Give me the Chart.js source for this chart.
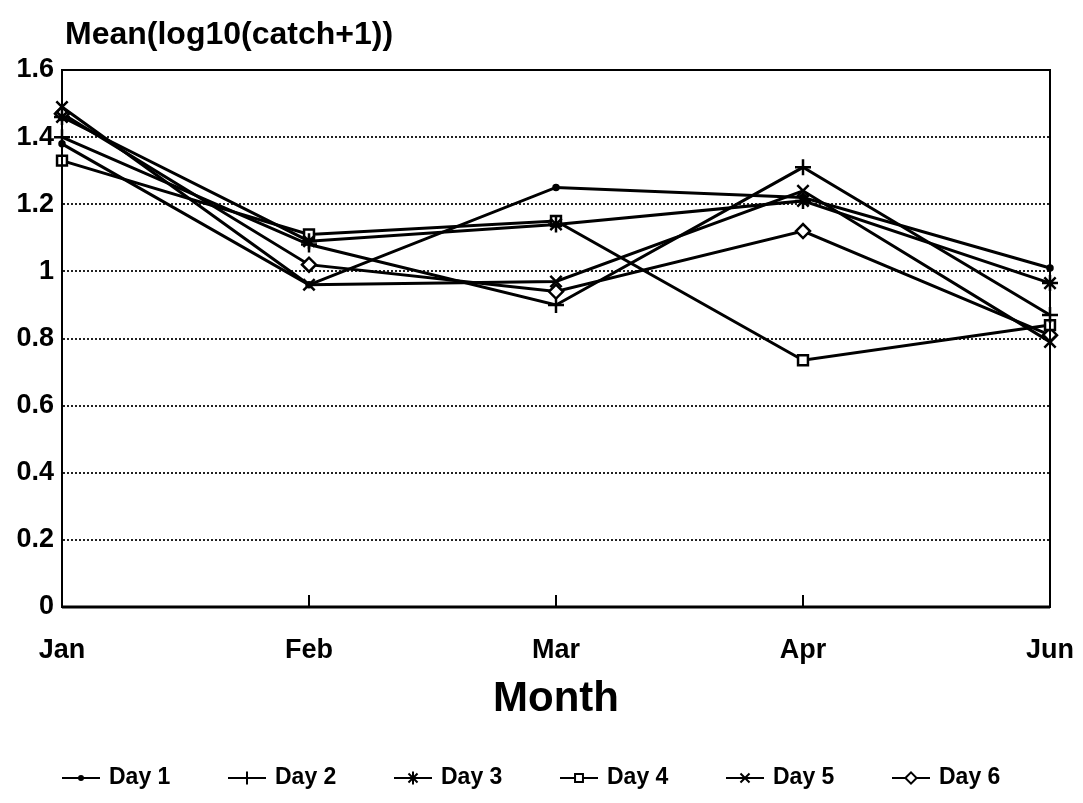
<!DOCTYPE html>
<html lang="en">
<head>
    <meta charset="UTF-8">
    <title>Mean(log10(catch+1)) by Month</title>
    <script src="https://cdn.jsdelivr.net/npm/chart.js"></script>
    <style>
        body {
            margin: 0;
            background: #fff;
        }
        #wrap {
            width: 1083px;
            height: 803px;
        }
    </style>
</head>
<body>
    <div id="wrap">
        <canvas id="myChart" width="1083" height="803"></canvas>
    </div>

    <script>
        // data
        const months = ["Jan", "Feb", "Mar", "Apr", "Jun"];
        const seriesNames = ["Day 1", "Day 2", "Day 3", "Day 4", "Day 5", "Day 6"];
        const day1 = [1.38, 0.96, 1.25, 1.22, 1.01];
        const day2 = [1.40, 1.08, 0.90, 1.31, 0.87];
        const day3 = [1.46, 1.09, 1.14, 1.21, 0.965];
        const day4 = [1.33, 1.11, 1.15, 0.735, 0.84];
        const day5 = [1.49, 0.96, 0.97, 1.24, 0.79];
        const day6 = [1.47, 1.02, 0.94, 1.12, 0.81];
        const yTicks = [0, 0.2, 0.4, 0.6, 0.8, 1, 1.2, 1.4, 1.6];

        const markerStyles = ["circle", "cross", "star", "rect", "crossRot", "rectRot"];
        const markerSizes = [2.5, 8, 8, 7, 8, 7];
        const allValues = [day1, day2, day3, day4, day5, day6];

        const FONT = "'Liberation Sans', Arial, sans-serif";

        const datasets = seriesNames.map((name, i) => ({
            label: name,
            data: allValues[i],
            borderColor: '#000',
            borderWidth: 3,
            pointStyle: markerStyles[i],
            pointRadius: markerSizes[i],
            pointBorderWidth: 2.5,
            pointBorderColor: '#000',
            pointBackgroundColor: markerStyles[i] === 'circle' ? '#000' : '#fff',
            tension: 0,
            fill: false
        }));

        // frame, little x ticks, titles and the legend row
        const framePlugin = {
            id: 'frame',
            afterDatasetsDraw(chart) {
                const a = chart.chartArea;
                const ctx = chart.ctx;
                ctx.save();
                ctx.setLineDash([]);
                ctx.strokeStyle = '#000';
                ctx.lineWidth = 2;
                ctx.strokeRect(a.left, a.top, a.right - a.left, a.bottom - a.top);
                ctx.lineWidth = 3;
                ctx.beginPath();
                ctx.moveTo(a.left, a.bottom);
                ctx.lineTo(a.right, a.bottom);
                ctx.stroke();
                ctx.lineWidth = 2;
                const xs = chart.scales.x;
                for (let i = 1; i < months.length - 1; i++) {
                    const px = xs.getPixelForValue(i);
                    ctx.beginPath();
                    ctx.moveTo(px, a.bottom);
                    ctx.lineTo(px, a.bottom - 12);
                    ctx.stroke();
                }
                ctx.restore();
            },
            afterDraw(chart) {
                const a = chart.chartArea;
                const ctx = chart.ctx;
                ctx.save();
                ctx.fillStyle = '#000';
                ctx.font = "bold 32px " + FONT;
                ctx.textBaseline = 'alphabetic';
                ctx.textAlign = 'left';
                ctx.fillText('Mean(log10(catch+1))', a.left + 3, 44);
                ctx.font = "bold 42px " + FONT;
                ctx.textAlign = 'center';
                ctx.textBaseline = 'middle';
                ctx.fillText('Month', (a.left + a.right) / 2, 699);

                // legend: line + marker + name
                const ly = 778;
                ctx.font = "bold 23px " + FONT;
                ctx.textAlign = 'left';
                chart.data.datasets.forEach((ds, i) => {
                    const x0 = a.left + i * 166;
                    ctx.strokeStyle = '#000';
                    ctx.lineWidth = 2;
                    ctx.setLineDash([]);
                    ctx.beginPath();
                    ctx.moveTo(x0, ly);
                    ctx.lineTo(x0 + 38, ly);
                    ctx.stroke();
                    ctx.fillStyle = ds.pointBackgroundColor;
                    Chart.helpers.drawPoint(ctx, {
                        pointStyle: ds.pointStyle,
                        radius: ds.pointRadius * 0.8,
                        rotation: 0,
                        borderWidth: 2
                    }, x0 + 19, ly);
                    ctx.fillStyle = '#000';
                    ctx.fillText(ds.label, x0 + 47, ly);
                });
                ctx.restore();
            }
        };

        const ctx = document.getElementById('myChart').getContext('2d');
        const myChart = new Chart(ctx, {
            type: 'line',
            data: {
                labels: months,
                datasets: datasets
            },
            options: {
                responsive: false,
                maintainAspectRatio: false,
                animation: false,
                layout: {
                    padding: { top: 70, right: 33, left: 0, bottom: 99 }
                },
                plugins: {
                    title: { display: false },
                    legend: { display: false },
                    tooltip: { enabled: false }
                },
                scales: {
                    x: {
                        offset: false,
                        afterFit(scale) {
                            scale.height = 97;
                            scale.paddingLeft = 0;
                            scale.paddingRight = 0;
                        },
                        grid: { display: false },
                        border: { display: true, color: '#000', width: 2 },
                        ticks: {
                            color: '#000',
                            font: { family: FONT, size: 27, weight: 'bold' },
                            padding: 19,
                            maxRotation: 0
                        }
                    },
                    y: {
                        min: 0,
                        max: 1.6,
                        afterFit(scale) { scale.width = 62; },
                        afterBuildTicks(scale) {
                            scale.ticks = yTicks.map(v => ({ value: v }));
                        },
                        grid: {
                            color: (c) => (c.tick.value === 0 || c.tick.value === 1.6) ? 'rgba(0,0,0,0)' : '#222',
                            lineWidth: 2,
                            drawTicks: false
                        },
                        // v4: border.dash is the dash of the grid lines
                        border: { display: true, color: '#000', width: 2, dash: [2, 2] },
                        ticks: {
                            color: '#000',
                            font: { family: FONT, size: 27, weight: 'bold' },
                            padding: 8,
                            callback: (v) => String(v)
                        }
                    }
                }
            },
            plugins: [framePlugin]
        });
    </script>
</body>
</html>
